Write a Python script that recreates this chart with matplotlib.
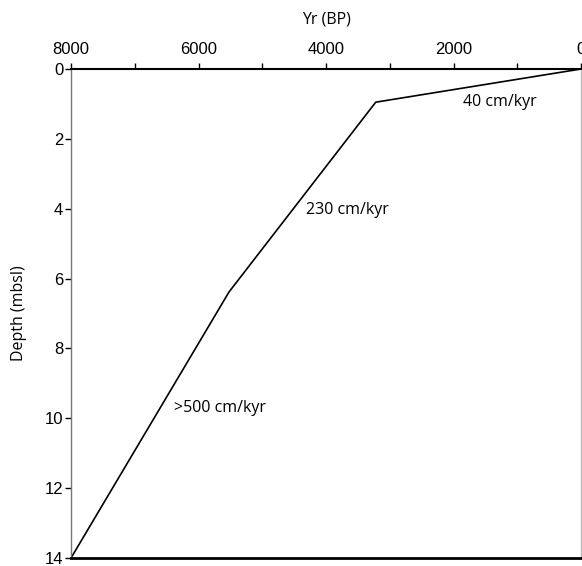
import numpy as np
from matplotlib import pyplot as plt

# age-depth model
anos = [0, 3220, 5520, 8000]
prof = [0, 0.95, 6.38, 14]
taxas = ["40 cm/kyr", "230 cm/kyr", ">500 cm/kyr"]
pos_taxas = [(1270, 0.95), (4320, 4.05), (6380, 9.7)]

fig = plt.figure(figsize=(5.82, 5.66), dpi=100)
ax = fig.add_axes([71/582, 8/566, 510/582, 489/566])

ax.plot(anos, prof, color="black", lw=1.2)

ax.set_xlim(8000, 0)
ax.set_ylim(14, 0)

ax.xaxis.tick_top()
ax.xaxis.set_label_position("top")
ax.set_xticks(np.arange(0, 8001, 2000))
ax.set_xticks(np.arange(1000, 8000, 2000), minor=True)
ax.set_yticks(np.arange(0, 15, 2))
ax.tick_params(axis="x", which="both", direction="out", length=4.3, width=1,
               pad=4, labelsize=12)
ax.tick_params(axis="y", direction="out", length=4, width=1, pad=1.5,
               labelsize=12)
for lab in ax.get_xticklabels() + ax.get_yticklabels():
    lab.set_family("Liberation Sans")

ax.set_xlabel("Yr (BP)", family="Open Sans", fontsize=11.5, labelpad=13.5)
ax.set_ylabel("Depth (mbsl)", family="Open Sans", fontsize=11.5, labelpad=13)

ax.spines["top"].set_linewidth(1.5)
ax.spines["bottom"].set_linewidth(2)
ax.spines["left"].set_color("#777777")
ax.spines["right"].set_color("#bbbbbb")
ax.spines["left"].set_linewidth(1)
ax.spines["right"].set_linewidth(1)

ax.text(pos_taxas[0][0], pos_taxas[0][1], taxas[0], ha="center", va="center",
        family="Open Sans", fontsize=11.5)
ax.text(pos_taxas[1][0], pos_taxas[1][1], taxas[1], ha="left", va="center",
        family="Open Sans", fontsize=11.5)
ax.text(pos_taxas[2][0], pos_taxas[2][1], taxas[2], ha="left", va="center",
        family="Open Sans", fontsize=11.5)

plt.savefig("out.png", dpi=100)
